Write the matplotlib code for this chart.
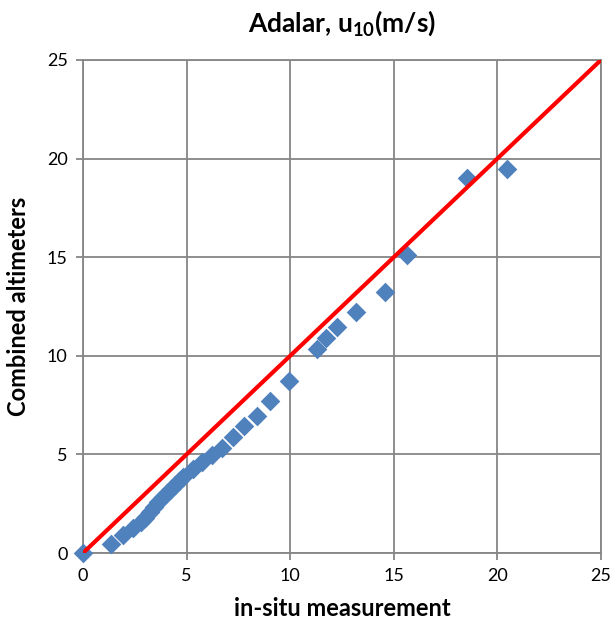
import matplotlib
matplotlib.use("Agg")
import matplotlib.pyplot as plt

plt.rcParams['font.family'] = ['Lato', 'DejaVu Sans']
plt.rcParams['mathtext.fontset'] = 'custom'
plt.rcParams['mathtext.rm'] = 'Lato:bold'
plt.rcParams['mathtext.bf'] = 'Lato:bold'
plt.rcParams['mathtext.it'] = 'Lato:bold'

insitu = [0.0, 1.34, 1.95, 2.40, 2.78, 3.0, 3.23, 3.45, 3.64, 3.85, 4.04, 4.25, 4.44, 4.65, 4.84,
          5.29, 5.72, 6.21, 6.69, 7.22, 7.77, 8.38, 9.02, 9.93, 11.28, 11.73, 12.27, 13.16,
          14.58, 15.65, 18.52, 20.46]
altimeter = [0.0, 0.44, 0.91, 1.25, 1.59, 1.80, 2.10, 2.35, 2.60, 2.82, 3.03, 3.25, 3.45, 3.66, 3.87,
             4.24, 4.63, 4.97, 5.31, 5.87, 6.46, 6.96, 7.71, 8.72, 10.34, 10.89, 11.48, 12.21,
             13.22, 15.11, 19.03, 19.47]
line_x = [0, 25]
line_y = [0, 25]
ticks = [0, 5, 10, 15, 20, 25]

fig = plt.figure(figsize=(6.13, 6.31), dpi=100)
ax = fig.add_axes([0.1354, 0.1236, 0.845, 0.7814])

ax.scatter(insitu, altimeter, marker='D', s=100, color='#4F81BD', zorder=3, linewidths=0, clip_on=False)
ax.plot(line_x, line_y, color='#FF0000', lw=3, zorder=4, solid_capstyle='butt')

ax.set_xlim(0, 25)
ax.set_ylim(0, 25)
ax.set_xticks(ticks)
ax.set_yticks(ticks)
ax.grid(True, color='#868686', lw=1.3, zorder=0)
ax.set_axisbelow(True)
for s in ax.spines.values():
    s.set_color('#868686')
    s.set_linewidth(1.3)
ax.tick_params(axis='x', length=5, color='#868686', width=1.3, labelsize=13, pad=6)
ax.tick_params(axis='y', length=5, color='#868686', width=1.3, labelsize=13, pad=6)

ax.set_xlabel('in-situ measurement', fontsize=17, fontweight='bold', labelpad=9)
ax.set_ylabel('Combined altimeters', fontsize=17, fontweight='bold', labelpad=12)
ax.set_title('Adalar, u$_{10}$(m/s)', fontsize=19, fontweight='bold', pad=20)

fig.savefig('out.png', dpi=100)
